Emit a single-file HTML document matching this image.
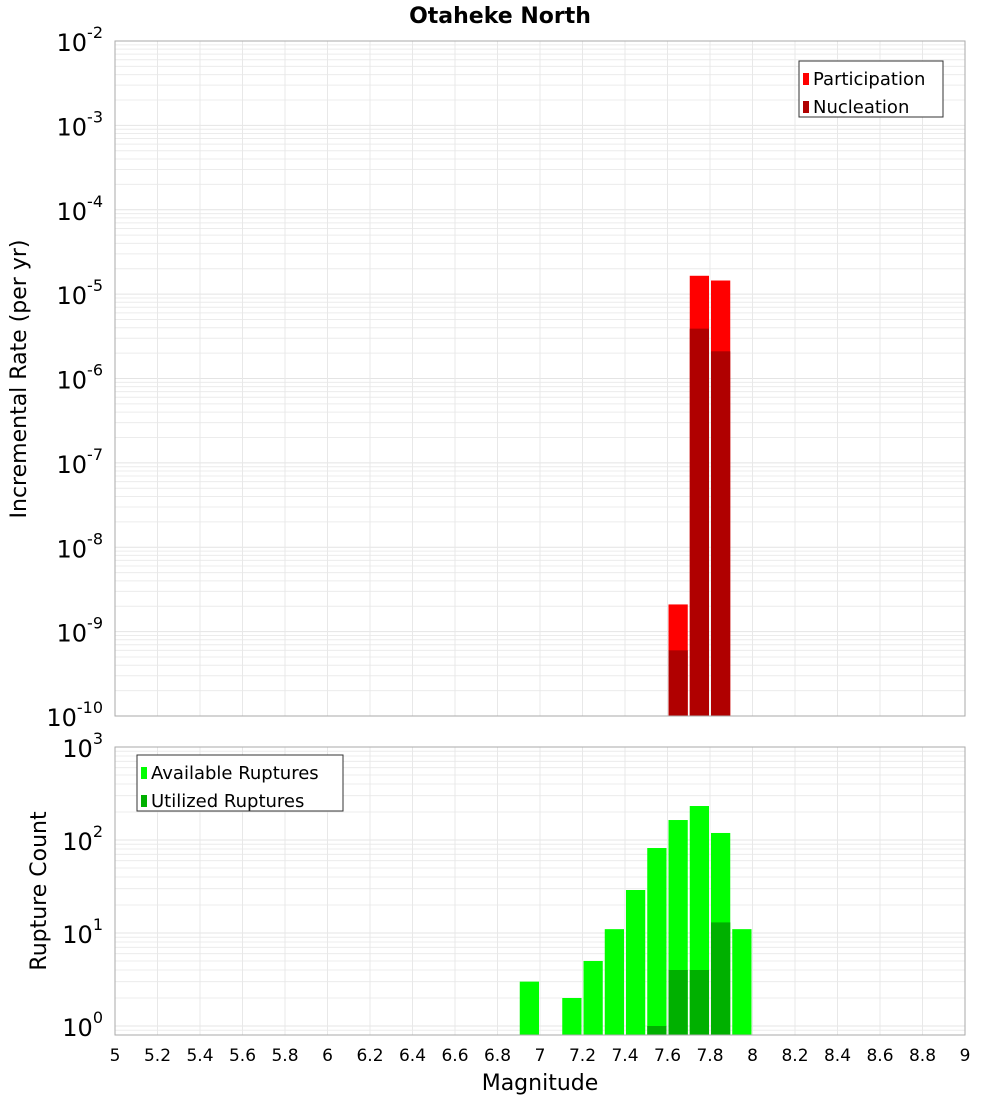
<!DOCTYPE html>
<html><head><meta charset="utf-8"><style>
body{margin:0;background:#fff;}
svg text{font-family:"DejaVu Sans","Liberation Sans",sans-serif;}
</style></head><body>
<svg id="chart" width="1000" height="1100" xmlns="http://www.w3.org/2000/svg">
<text x="500" y="23" text-anchor="middle" font-size="22" font-weight="bold">Otaheke North</text>
<g id="topPlot"></g>
<g id="botPlot"></g>
<text transform="translate(26,379) rotate(-90)" text-anchor="middle" font-size="22">Incremental Rate (per yr)</text>
<text transform="translate(46,891) rotate(-90)" text-anchor="middle" font-size="22">Rupture Count</text>
<text x="540" y="1090" text-anchor="middle" font-size="22">Magnitude</text>
</svg>
<script>
const rateMags=[7.65,7.75,7.85];
const participation=[2.1e-9,1.65e-5,1.45e-5];
const nucleation=[6e-10,3.9e-6,2.1e-6];
const countMags=[6.95,7.15,7.25,7.35,7.45,7.55,7.65,7.75,7.85,7.95];
const available=[3,2,5,11,29,82,164,232,119,11];
const utilMags=[7.55,7.65,7.75,7.85];
const utilized=[1,4,4,13];
const xTicks=[5,5.2,5.4,5.6,5.8,6,6.2,6.4,6.6,6.8,7,7.2,7.4,7.6,7.8,8,8.2,8.4,8.6,8.8,9];
const rateExps=[-2,-3,-4,-5,-6,-7,-8,-9,-10];
const countExps=[3,2,1,0];

const NS="http://www.w3.org/2000/svg";
const L=115,R=965;
const xs=m=>L+(m-5)/4*(R-L);
const tTop=41,tBot=716,yT=v=>tTop+(-2-Math.log10(v))*(tBot-tTop)/8;
const bTop=747,bBot=1035,dec=93,zero=1026,yB=v=>zero-Math.log10(v)*dec;
function el(p,tag,a,name){const e=document.createElementNS(NS,tag);for(const k in a)e.setAttribute(k,a[k]);


p.appendChild(e);return e;}
const topG=document.getElementById('topPlot'),botG=document.getElementById('botPlot');
function grid(g,y0,y1,yf,emin,emax){
 el(g,'rect',{x:L,y:y0,width:R-L,height:y1-y0,fill:'#fff'},'plot-bg');
 for(let e=emin;e<emax;e++)for(let k=1;k<10;k++){const y=yf(k*Math.pow(10,e));if(y<y0-0.5||y>y1+0.5)continue;
  el(g,'line',{x1:L,x2:R,y1:y,y2:y,stroke:k==1?'#e4e4e4':'#ececec','stroke-width':1},'h-gridline');}
 for(let i=0;i<=40;i+=2){const x=xs(5+i*0.1);el(g,'line',{x1:x,x2:x,y1:y0,y2:y1,stroke:'#e8e8e8','stroke-width':1},'v-gridline');}
}
function bar(g,m,v,yf,yb,c,name){const y=yf(v);el(g,'rect',{x:xs(m-0.05)+1,y:y,width:xs(m+0.05)-xs(m-0.05)-2,height:yb-y,fill:c},name);}
function powLabel(g,y,e){const t=el(g,'text',{x:103,y:y+10,'text-anchor':'end','font-size':24},'y-tick-label');
 t.appendChild(document.createTextNode('10'));
 const s=document.createElementNS(NS,'tspan');s.setAttribute('dy','-13');s.setAttribute('font-size','16');s.textContent=String(e);t.appendChild(s);}
grid(topG,tTop,tBot,yT,-10,-2);
rateMags.forEach((m,i)=>bar(topG,m,participation[i],yT,tBot,'#ff0000','participation-bar'));
rateMags.forEach((m,i)=>bar(topG,m,nucleation[i],yT,tBot,'#b00000','nucleation-bar'));
el(topG,'rect',{x:L,y:tTop,width:R-L,height:tBot-tTop,fill:'none',stroke:'#aaa'},'plot-border');
rateExps.forEach(e=>powLabel(topG,yT(Math.pow(10,e)),e));
grid(botG,bTop,bBot,yB,-1,3);
countMags.forEach((m,i)=>bar(botG,m,available[i],yB,bBot,'#00ff00','available-bar'));
utilMags.forEach((m,i)=>bar(botG,m,utilized[i],yB,bBot,'#00b000','utilized-bar'));
el(botG,'rect',{x:L,y:bTop,width:R-L,height:bBot-bTop,fill:'none',stroke:'#aaa'},'plot-border');
countExps.forEach(e=>powLabel(botG,yB(Math.pow(10,e)),e));
xTicks.forEach(m=>{const t=el(botG,'text',{x:xs(m),y:1061,'text-anchor':'middle','font-size':17},'x-tick-label');t.textContent=String(m);});
function legend(g,x,y,w,items){el(g,'rect',{x:x,y:y,width:w,height:56,fill:'#fff',stroke:'#333'},'legend-box');
 items.forEach((it,i)=>{el(g,'rect',{x:x+4,y:y+12+i*28,width:6,height:12,fill:it[1]},'legend-swatch');
 const t=el(g,'text',{x:x+14,y:y+24+i*28,'font-size':18},'legend-entry');t.textContent=it[0];});}
legend(topG,799,61,144,[['Participation','#ff0000'],['Nucleation','#b00000']]);
legend(botG,137,755,206,[['Available Ruptures','#00ff00'],['Utilized Ruptures','#00b000']]);
</script>
</body></html>
